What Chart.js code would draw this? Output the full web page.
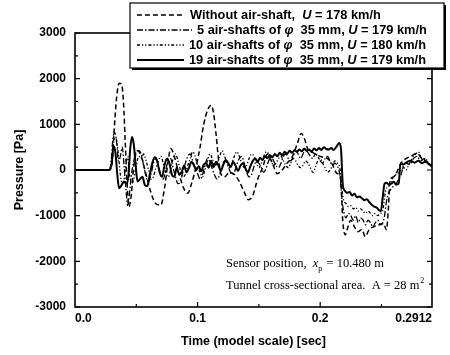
<!DOCTYPE html>
<html lang="en">
<head>
<meta charset="utf-8">
<title>Pressure history - air-shafts</title>
<style>
  html, body { margin: 0; padding: 0; background: #fff; }
  canvas { display: block; }
</style>
</head>
<body>
<canvas id="pressChart" width="450" height="355"></canvas>

<script src="https://cdn.jsdelivr.net/npm/chart.js"></script>
<script>
// ---- data (time in s, pressure in Pa) ----
const seriesNames = [
    'Without air-shaft,  U = 178 km/h',
    '5 air-shafts of φ  35 mm, U = 179 km/h',
    '10 air-shafts of φ  35 mm, U = 180 km/h',
    '19 air-shafts of φ  35 mm, U = 179 km/h'
];

const timeNoShaft = [0, 0.028, 0.030, 0.032, 0.034, 0.036, 0.038, 0.0395, 0.041, 0.0425, 0.044, 0.046, 0.048, 0.051, 0.054,
    0.058, 0.062, 0.066, 0.070, 0.073, 0.076, 0.078, 0.081, 0.085, 0.089, 0.092, 0.095, 0.099, 0.102, 0.105, 0.108,
    0.111, 0.113, 0.115, 0.117, 0.119, 0.122, 0.126, 0.130, 0.134, 0.138, 0.1415, 0.145, 0.149, 0.153, 0.157, 0.161,
    0.165, 0.169, 0.173, 0.177, 0.181, 0.1845, 0.187, 0.190, 0.194, 0.198, 0.202, 0.206, 0.210, 0.2135, 0.2165, 0.2185,
    0.2205, 0.222, 0.225, 0.228, 0.231, 0.234, 0.2367, 0.240, 0.244, 0.248, 0.2517, 0.254, 0.2555, 0.257, 0.260,
    0.2626, 0.266, 0.270, 0.274, 0.279, 0.283, 0.287, 0.2912];
const pNoShaft = [0, 0, 100, 900, 1600, 1900, 1880, 1500, 600, -300, -800, -520, 100, 420, 300,
    -100, -500, -740, -770, -400, 200, 470, 300, -100, -420, -510, -300, 100, 500, 1000, 1300,
    1420, 1250, 800, 250, -80, -150, -50, -100, -250, -480, -650, -560, -200, 50, 350, 150,
    -80, 0, 150, 280, 550, 800, 700, 450, 380, 320, 280, 250, 120, -70, -150, -1150,
    -1420, -1300, -1100, -1250, -1350, -1300, -1460, -1300, -1240, -1200, -1170, -1310, -900, -220, -150,
    -40, 150, 250, 300, 365, 250, 180, 60];

const timeFive = [0, 0.028, 0.0295, 0.031, 0.0325, 0.034, 0.0355, 0.037, 0.0385, 0.040, 0.0415, 0.043, 0.0445, 0.046,
    0.048, 0.050, 0.052, 0.054, 0.056, 0.058, 0.060, 0.062, 0.064, 0.066, 0.068, 0.070, 0.072, 0.074, 0.076, 0.078,
    0.080, 0.082, 0.084, 0.086, 0.088, 0.090, 0.092, 0.094, 0.096, 0.098, 0.100, 0.102, 0.104, 0.106, 0.108, 0.110,
    0.112, 0.114, 0.116, 0.118, 0.120, 0.122, 0.124, 0.126, 0.128, 0.130, 0.132, 0.134, 0.136, 0.138, 0.140, 0.142,
    0.144, 0.146, 0.148, 0.150, 0.152, 0.154, 0.156, 0.158, 0.160, 0.162, 0.164, 0.166, 0.168, 0.170, 0.172, 0.174,
    0.176, 0.178, 0.180, 0.182, 0.184, 0.186, 0.188, 0.190, 0.192, 0.194, 0.196, 0.198, 0.200, 0.202, 0.204, 0.206,
    0.208, 0.210, 0.212, 0.214, 0.216, 0.218, 0.2195, 0.221, 0.223, 0.225, 0.227, 0.229, 0.231, 0.233, 0.235, 0.237,
    0.239, 0.241, 0.243, 0.245, 0.247, 0.249, 0.251, 0.2525, 0.254, 0.256, 0.258, 0.260, 0.262, 0.264, 0.266, 0.268,
    0.270, 0.273, 0.276, 0.279, 0.282, 0.285, 0.288, 0.2912];
const pFive = [0, 0, 200, 700, 820, 600, 200, 300, 500, 100, -400, -780, -500, -100,
    200, 400, 430, 350, 100, -150, -250, -100, 150, 250, 100, -100, -200, 0, 200, 250,
    50, -150, -300, -250, -50, 150, 300, 350, 200, 50, -80, -200, -100, 100, 250, 180,
    20, -120, -200, -100, 80, 200, 150, 0, -100, -50, 120, 250, 300, 150, -50, -150,
    -100, 80, 200, 150, 50, -50, 50, 200, 300, 200, 100, 50, 150, 300, 350, 250,
    200, 300, 420, 350, 250, 350, 450, 380, 300, 250, 350, 300, 200, 150, 250, 300,
    200, 100, 150, 80, -100, -700, -950, -1050, -950, -1000, -1100, -1000, -1150, -1050, -1100, -1200,
    -1100, -1150, -1250, -1150, -1100, -1200, -1150, -1000, -700, -500, -400, -350, -300, -200, -100, 100,
    150, 120, 250, 300, 200, 250, 150, 100];

const timeTen = [0, 0.028, 0.0295, 0.031, 0.0325, 0.034, 0.0355, 0.037, 0.0385, 0.040, 0.0415, 0.043, 0.0445, 0.046,
    0.048, 0.050, 0.052, 0.054, 0.056, 0.058, 0.060, 0.062, 0.064, 0.066, 0.068, 0.070, 0.072, 0.074, 0.076, 0.078,
    0.080, 0.082, 0.084, 0.086, 0.088, 0.090, 0.092, 0.094, 0.096, 0.098, 0.100, 0.102, 0.104, 0.106, 0.108, 0.110,
    0.112, 0.114, 0.116, 0.118, 0.120, 0.122, 0.124, 0.126, 0.128, 0.130, 0.132, 0.134, 0.136, 0.138, 0.140, 0.142,
    0.144, 0.146, 0.148, 0.150, 0.152, 0.154, 0.156, 0.158, 0.160, 0.162, 0.164, 0.166, 0.168, 0.170, 0.172, 0.174,
    0.176, 0.178, 0.180, 0.182, 0.184, 0.186, 0.188, 0.190, 0.192, 0.194, 0.196, 0.198, 0.200, 0.202, 0.204, 0.206,
    0.208, 0.210, 0.212, 0.214, 0.216, 0.2175, 0.219, 0.221, 0.223, 0.225, 0.227, 0.229, 0.231, 0.233, 0.235, 0.237,
    0.239, 0.241, 0.243, 0.245, 0.247, 0.249, 0.251, 0.2525, 0.254, 0.256, 0.258, 0.260, 0.262, 0.264, 0.266, 0.268,
    0.270, 0.272, 0.274, 0.276, 0.278, 0.280, 0.282, 0.284, 0.286, 0.288, 0.2912];
const pTen = [0, 0, 150, 500, 700, 650, 300, -100, -300, -200, 100, 300, -100, -300,
    -200, 100, 300, 250, 350, 200, 0, -200, -150, 50, 200, 300, 150, -50, -150, 0,
    250, 350, 200, 0, -150, -100, 100, 250, 400, 300, 100, -50, -150, 0, 200, 350,
    250, 100, 150, 300, 420, 300, 150, 50, 150, 300, 400, 300, 150, 50, 100, 250,
    350, 300, 150, 50, 150, 300, 400, 350, 200, 100, 150, 250, 300, 200, 100, 50,
    150, 250, 200, 100, 50, 100, 200, 150, 50, -50, 50, 200, 250, 150, 50, -50,
    0, 100, 200, 150, 50, -350, -650, -730, -800, -780, -850, -820, -900, -850, -900, -950,
    -900, -950, -1000, -950, -1000, -950, -900, -600, -400, -350, -250, -150, -100, -50, 0, 50,
    0, 100, 200, 300, 350, 400, 300, 200, 250, 150, 100];

const timeNineteen = [0, 0.028, 0.030, 0.0315, 0.033, 0.0345, 0.036, 0.038, 0.040, 0.042, 0.0435, 0.045, 0.0465, 0.048,
    0.0495, 0.051, 0.053, 0.055, 0.057, 0.059, 0.061, 0.063, 0.065, 0.067, 0.069, 0.071, 0.073, 0.075, 0.077, 0.079,
    0.081, 0.083, 0.085, 0.087, 0.089, 0.091, 0.093, 0.095, 0.097, 0.099, 0.101, 0.103, 0.105, 0.107, 0.109, 0.111,
    0.113, 0.115, 0.117, 0.119, 0.121, 0.123, 0.125, 0.127, 0.129, 0.131, 0.133, 0.135, 0.137, 0.139, 0.141, 0.143,
    0.145, 0.147, 0.149, 0.151, 0.153, 0.155, 0.157, 0.159, 0.161, 0.163, 0.165, 0.167, 0.169, 0.171, 0.173, 0.175,
    0.177, 0.179, 0.181, 0.183, 0.185, 0.187, 0.189, 0.191, 0.193, 0.195, 0.197, 0.199, 0.201, 0.203, 0.205, 0.207,
    0.209, 0.211, 0.213, 0.2155, 0.217, 0.2185, 0.220, 0.222, 0.224, 0.226, 0.228, 0.230, 0.232, 0.234, 0.236, 0.238,
    0.240, 0.242, 0.244, 0.246, 0.248, 0.2495, 0.251, 0.2525, 0.254, 0.256, 0.258, 0.260, 0.262, 0.264, 0.2655, 0.268,
    0.271, 0.274, 0.277, 0.280, 0.283, 0.286, 0.289, 0.2912];
const pNineteen = [0, 0, 150, 520, 380, -100, -400, -330, -250, -300, -150, 450, 720, 550,
    100, -250, -200, -150, -330, -350, -100, 150, 280, 200, -50, -150, 100, 250, 150, -100,
    -150, 50, -100, -50, 100, -50, 50, 180, 100, 0, 80, -30, 120, 150, 50, 200,
    60, 180, 100, -20, 120, 220, 150, 60, 180, 90, -20, 100, 150, 40, -60, 80,
    200, 250, 180, 270, 220, 300, 260, 330, 280, 350, 300, 380, 320, 400, 350, 420,
    380, 430, 400, 450, 410, 470, 420, 450, 400, 470, 430, 480, 440, 500, 460, 450,
    480, 440, 500, 590, 450, -350, -450, -500, -480, -560, -520, -600, -580, -620, -660, -640,
    -700, -760, -800, -820, -880, -900, -600, -300, -280, -320, -300, -260, -320, -300, 150, 120,
    180, 200, 160, 200, 150, 180, 120, 110];

const xTickValues = [0, 0.1, 0.2, 0.2912];
const xTickLabels = ['0.0', '0.1', '0.2', '0.2912'];
const xMinorTicks = [0.05, 0.15, 0.25];
const yMinorTicks = [-2500, -1500, -500, 500, 1500, 2500];

const noteLines = [
    ['Sensor position,  ', 'x', 'p', ' = 10.480 m'],
    ['Tunnel cross-sectional area.  A = 28 m', '', '2', '']
];

const SANS = '"Liberation Sans", Arial, sans-serif';
const SERIF = '"Liberation Serif", "Times New Roman", serif';

function pairs(ts, ps) {
    return ts.map((t, i) => ({x: t, y: ps[i]}));
}

/**
 * Plot frame with inward tick marks on all four sides
 */
const framePlugin = {
    id: 'frame',
    afterDatasetsDraw(chart) {
        const ctx = chart.ctx;
        const a = chart.chartArea;
        const xs = chart.scales.x, ys = chart.scales.y;
        ctx.save();
        ctx.strokeStyle = '#000';
        ctx.lineWidth = 1.6;
        ctx.strokeRect(a.left, a.top, a.right - a.left, a.bottom - a.top);
        ctx.lineWidth = 1.2;
        ctx.beginPath();
        ys.ticks.forEach(t => {
            const y = ys.getPixelForValue(t.value);
            ctx.moveTo(a.left, y); ctx.lineTo(a.left + 5, y);
            ctx.moveTo(a.right, y); ctx.lineTo(a.right - 5, y);
        });
        yMinorTicks.forEach(v => {
            const y = ys.getPixelForValue(v);
            ctx.moveTo(a.left, y); ctx.lineTo(a.left + 3, y);
            ctx.moveTo(a.right, y); ctx.lineTo(a.right - 3, y);
        });
        xTickValues.slice(1, 3).forEach(v => {
            const x = xs.getPixelForValue(v);
            ctx.moveTo(x, a.bottom); ctx.lineTo(x, a.bottom - 5);
            ctx.moveTo(x, a.top); ctx.lineTo(x, a.top + 5);
        });
        xMinorTicks.forEach(v => {
            const x = xs.getPixelForValue(v);
            ctx.moveTo(x, a.bottom); ctx.lineTo(x, a.bottom - 3);
            ctx.moveTo(x, a.top); ctx.lineTo(x, a.top + 3);
        });
        ctx.stroke();
        ctx.restore();
    }
};

/**
 * Boxed legend in the top right corner, italic U and phi
 */
const legendPlugin = {
    id: 'boxLegend',
    afterDraw(chart) {
        const ctx = chart.ctx;
        const box = {x: 130, y: 3, w: 314, h: 65};
        const textX = [190, 197, 189, 189];
        ctx.save();
        ctx.fillStyle = '#000';
        ctx.fillRect(box.x + 2, box.y + 2, box.w, box.h);
        ctx.fillStyle = '#fff';
        ctx.fillRect(box.x, box.y, box.w, box.h);
        ctx.strokeStyle = '#000';
        ctx.lineWidth = 1.2;
        ctx.strokeRect(box.x, box.y, box.w, box.h);

        chart.data.datasets.forEach((ds, i) => {
            const y = 15 + 15 * i;
            ctx.beginPath();
            ctx.lineWidth = ds.borderWidth;
            ctx.setLineDash(ds.borderDash || []);
            ctx.moveTo(137, y);
            ctx.lineTo(textX[i] - 5, y);
            ctx.stroke();
            ctx.setLineDash([]);

            let x = textX[i];
            ctx.fillStyle = '#000';
            ctx.textBaseline = 'middle';
            ds.label.split(/([Uφ])/).forEach(part => {
                if (!part) return;
                const ital = part === 'U' || part === 'φ';
                ctx.font = (ital ? 'italic ' : '') + 'bold 12.8px ' + SANS;
                ctx.fillText(part, x, y + 0.5);
                x += ctx.measureText(part).width;
            });
        });
        ctx.restore();
    }
};

/**
 * Sensor / tunnel notes in serif type
 */
const notesPlugin = {
    id: 'notes',
    afterDatasetsDraw(chart) {
        const ctx = chart.ctx;
        ctx.save();
        ctx.fillStyle = '#000';
        ctx.textBaseline = 'alphabetic';
        noteLines.forEach((ln, i) => {
            const base = 267 + 22 * i;
            let x = 226;
            ctx.font = '12.5px ' + SERIF;
            ctx.fillText(ln[0], x, base);
            x += ctx.measureText(ln[0]).width;
            if (ln[1]) {
                ctx.font = 'italic 12.5px ' + SERIF;
                ctx.fillText(ln[1], x, base);
                x += ctx.measureText(ln[1]).width;
            }
            ctx.font = '8px ' + SERIF;
            if (ln[1]) {
                ctx.fillText(ln[2], x, base + 4);
            } else {
                ctx.fillText(ln[2], x + 1, base - 6);
            }
            x += ctx.measureText(ln[2]).width + 1;
            ctx.font = '12.5px ' + SERIF;
            ctx.fillText(ln[3], x, base);
        });
        ctx.restore();
    }
};

const lineStyles = [
    {borderDash: [5, 3], borderWidth: 1.5},
    {borderDash: [6, 2, 1.5, 2], borderWidth: 1.3},
    {borderDash: [3, 2, 1.2, 2, 1.2, 2], borderWidth: 1.3},
    {borderDash: [], borderWidth: 2}
];
const seriesData = [
    pairs(timeNoShaft, pNoShaft),
    pairs(timeFive, pFive),
    pairs(timeTen, pTen),
    pairs(timeNineteen, pNineteen)
];

Chart.defaults.color = '#000';
Chart.defaults.font.family = SANS;

const pressChart = new Chart(document.getElementById('pressChart'), {
    type: 'line',
    data: {
        datasets: seriesData.map((d, i) => ({
            label: seriesNames[i],
            data: d,
            borderColor: '#000',
            borderWidth: lineStyles[i].borderWidth,
            borderDash: lineStyles[i].borderDash,
            pointRadius: 0,
            fill: false,
            cubicInterpolationMode: 'monotone'
        }))
    },
    options: {
        responsive: false,
        animation: false,
        layout: {padding: {top: 33, right: 18, left: 0, bottom: 0}},
        plugins: {legend: {display: false}, tooltip: {enabled: false}},
        scales: {
            x: {
                type: 'linear',
                min: 0,
                max: 0.2912,
                grid: {display: false, drawTicks: false},
                border: {display: false},
                afterBuildTicks: s => { s.ticks = xTickValues.map(v => ({value: v})); },
                afterFit: s => { s.height = 48; },
                ticks: {
                    autoSkip: false,
                    maxRotation: 0,
                    align: 'inner',
                    padding: 4,
                    font: {size: 12, weight: 'bold'},
                    callback: v => xTickLabels[xTickValues.indexOf(v)]
                },
                title: {
                    display: true,
                    text: 'Time (model scale) [sec]',
                    font: {size: 12.5, weight: 'bold'},
                    padding: {top: 0, bottom: 6}
                }
            },
            y: {
                min: -3000,
                max: 3000,
                grid: {display: false, drawTicks: false},
                border: {display: false},
                afterFit: s => { s.width = 75; },
                ticks: {
                    stepSize: 1000,
                    padding: 9,
                    font: {size: 12, weight: 'bold'},
                    callback: v => String(v)
                },
                title: {
                    display: true,
                    text: 'Pressure [Pa]',
                    font: {size: 12.5, weight: 'bold'},
                    padding: {top: 12, bottom: 0}
                }
            }
        }
    },
    plugins: [framePlugin, notesPlugin, legendPlugin]
});
</script>
</body>
</html>
